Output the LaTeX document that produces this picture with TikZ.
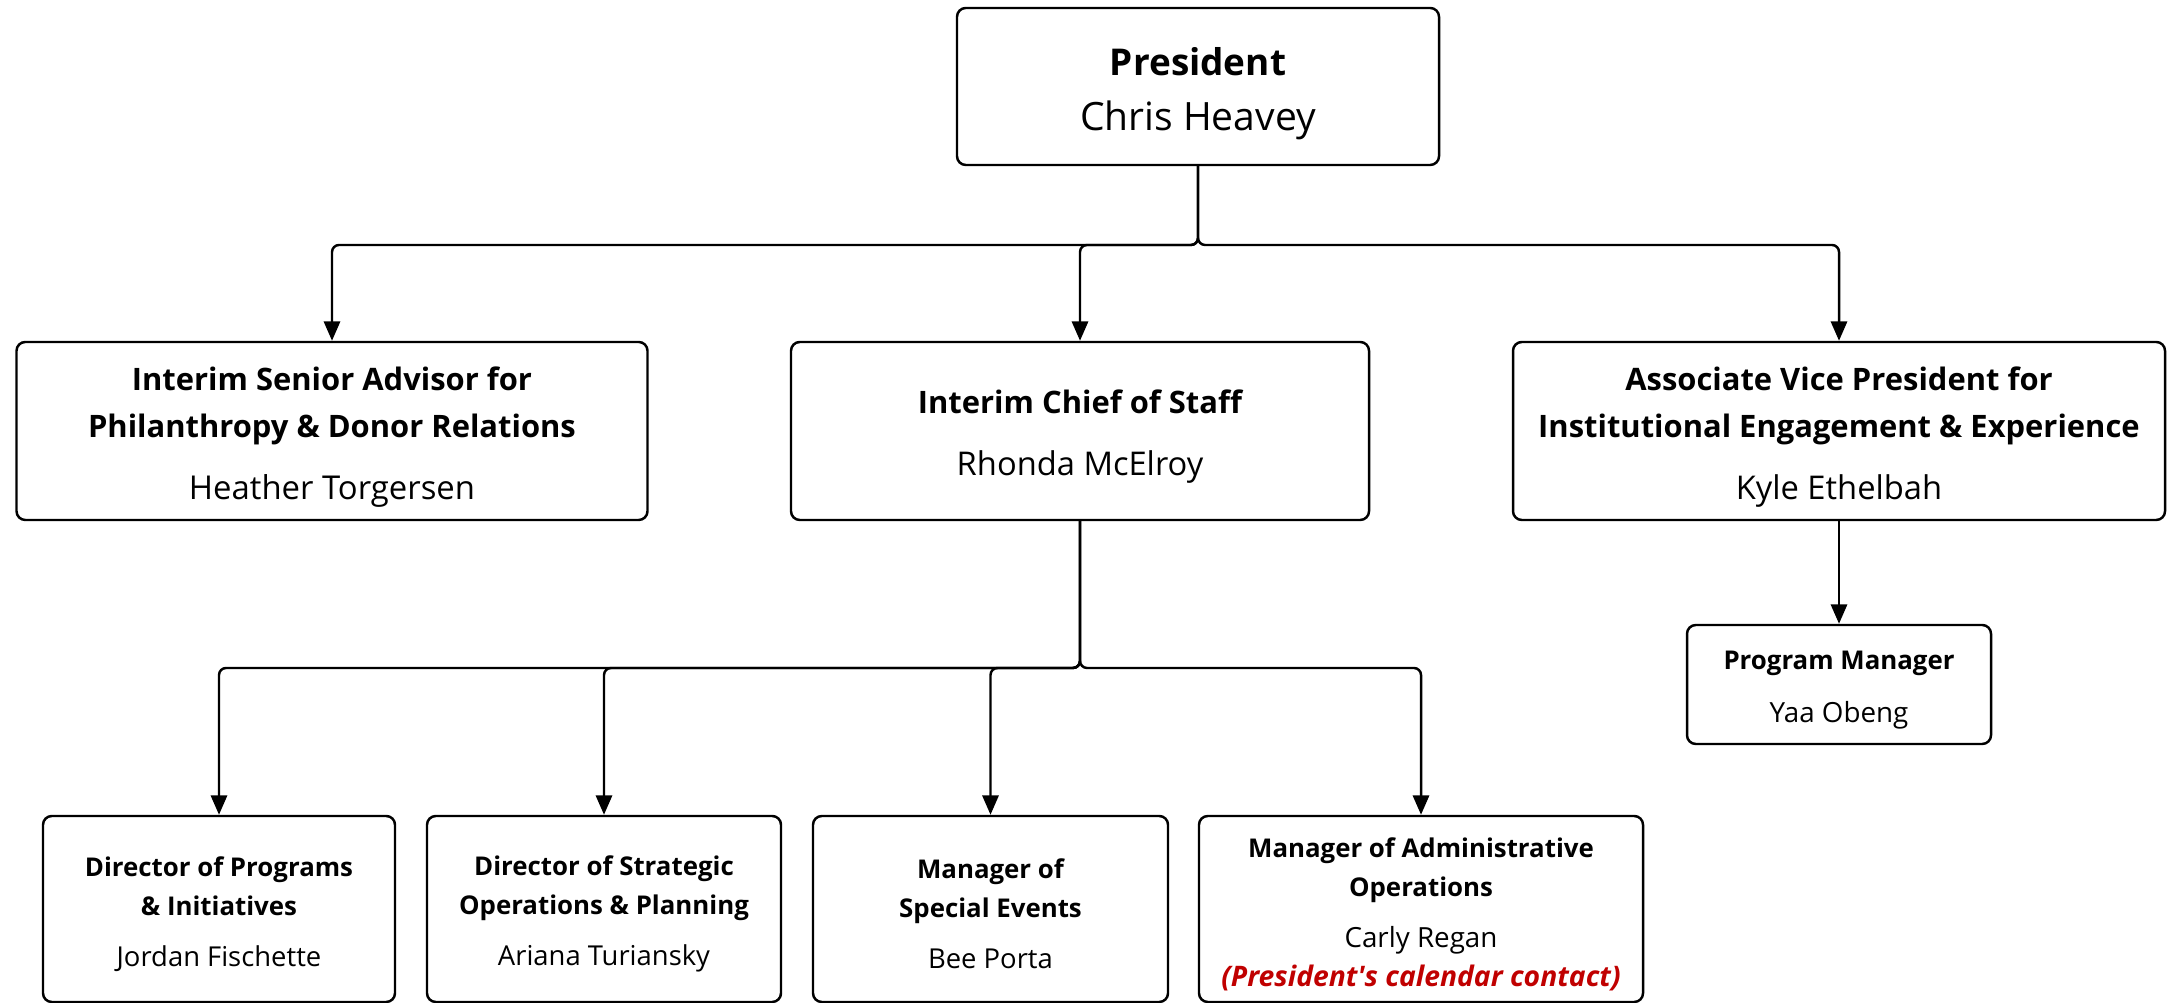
\documentclass[tikz,border=0pt]{standalone}
\usepackage{fontspec}
\setmainfont{Open Sans}
\usetikzlibrary{arrows.meta, positioning}

\definecolor{contactred}{HTML}{C00000}

% name line in a slightly larger size, and a strut for the first line
\newcommand{\person}[2]{{\fontsize{#1}{#1}\selectfont #2}}
\newcommand{\topgap}{\rule{0pt}{1.15em}}

\tikzset{
    post/.style={draw, line width=0.7pt, rounded corners=2.5pt, align=center, inner sep=0pt},
    link/.style={line width=0.7pt, rounded corners=2pt, -{Triangle[length=5.5pt,width=4.6pt]}},
    topfont/.style={font=\fontsize{10.5}{15.4}\selectfont},
    midfont/.style={font=\fontsize{8.8}{13.4}\selectfont},
    lowfont/.style={font=\fontsize{7.35}{11.1}\selectfont},
}

\begin{document}
\begin{tikzpicture}

    \useasboundingbox (0,0) rectangle (21.68,-10.03);

    % President
    \node[post, topfont, minimum width=4.82cm, minimum height=1.57cm] (pres) at (11.98,-0.865)
        {\topgap{\bfseries President}\\\person{11.1pt}{Chris Heavey}};

    % Direct reports
    \node[post, midfont, minimum width=6.31cm, minimum height=1.78cm] (adv) at (3.32,-4.31)
        {\topgap{\bfseries Interim Senior Advisor for}\\{\bfseries Philanthropy \& Donor Relations}\\[4.2pt]\person{9.35pt}{Heather Torgersen}};
    \node[post, midfont, minimum width=5.78cm, minimum height=1.78cm] (chief) at (10.80,-4.31)
        {\topgap{\bfseries Interim Chief of Staff}\\[4.2pt]\person{9.3pt}{Rhonda McElroy}};
    \node[post, midfont, minimum width=6.52cm, minimum height=1.78cm] (avp) at (18.39,-4.31)
        {\topgap{\bfseries Associate Vice President for}\\{\bfseries Institutional Engagement \& Experience}\\[4.2pt]\person{9.3pt}{Kyle Ethelbah}};

    \node[post, lowfont, minimum width=3.04cm, minimum height=1.19cm] (pm) at (18.39,-6.845)
        {\topgap{\bfseries Program Manager}\\[4pt]\person{7.9pt}{Yaa Obeng}};

    % Chief of staff team
    \node[post, lowfont, minimum width=3.52cm, minimum height=1.86cm] (dirprog) at (2.19,-9.09)
        {\topgap{\bfseries Director of Programs}\\{\bfseries \& Initiatives}\\[3.4pt]\person{7.8pt}{Jordan Fischette}};
    \node[post, lowfont, minimum width=3.54cm, minimum height=1.86cm] (dirstrat) at (6.04,-9.09)
        {\topgap{\bfseries Director of Strategic}\\{\bfseries Operations \& Planning}\\[3.4pt]\person{7.8pt}{Ariana Turiansky}};
    \node[post, lowfont, minimum width=3.55cm, minimum height=1.86cm] (mgrevents) at (9.905,-9.09)
        {\topgap{\bfseries Manager of}\\{\bfseries Special Events}\\[3.4pt]\person{7.8pt}{Bee Porta}};
    \node[post, lowfont, minimum width=4.44cm, minimum height=1.86cm] (mgradmin) at (14.21,-9.09)
        {\topgap{\bfseries Manager of Administrative}\\{\bfseries Operations}\\[3.4pt]\person{7.9pt}{Carly Regan}\\
         \person{8.05pt}{\color{contactred}\bfseries\itshape (President\textquotesingle s calendar contact)}};

    % Bus lines
    \coordinate (bustop) at (0,-2.45);
    \coordinate (buslow) at (0,-6.68);

    \draw[link] (pres.south) -- (pres.south |- bustop) -| (adv.north);
    \draw[link] (pres.south) -- (pres.south |- bustop) -| (chief.north);
    \draw[link] (pres.south) -- (pres.south |- bustop) -| (avp.north);

    \draw[link] (avp.south) -- (pm.north);

    \draw[link] (chief.south) -- (chief.south |- buslow) -| (dirprog.north);
    \draw[link] (chief.south) -- (chief.south |- buslow) -| (dirstrat.north);
    \draw[link] (chief.south) -- (chief.south |- buslow) -| (mgrevents.north);
    \draw[link] (chief.south) -- (chief.south |- buslow) -| (mgradmin.north);

\end{tikzpicture}
\end{document}
